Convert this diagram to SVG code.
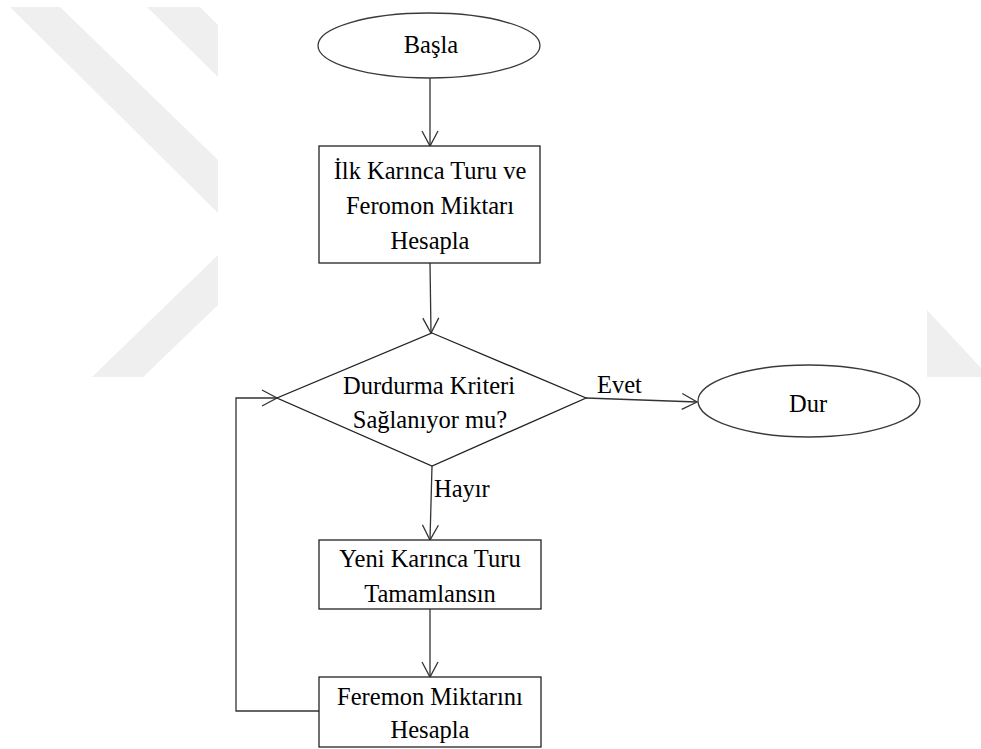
<svg xmlns="http://www.w3.org/2000/svg" width="981" height="749" viewBox="0 0 981 749">
  <style>
    .shape { fill: #ffffff; stroke: #222222; stroke-width: 1.3; }
    .oval { fill: #ffffff; stroke: #3a3a3a; stroke-width: 1.3; }
    .link { fill: none; stroke: #333333; stroke-width: 1.3; }
    text { font-family: 'Liberation Serif', 'DejaVu Serif', serif; font-size: 24.5px; fill: #000000; }
    .label { text-anchor: middle; }
    .mark { fill: #efefef; }
  </style>
  <defs>
    <marker id="open-arrow" markerUnits="userSpaceOnUse" markerWidth="20" markerHeight="20" viewBox="-16 -10 20 20" refX="0" refY="0" orient="auto">
      <path d="M -15 -8 L 0 0 L -15 8" fill="none" stroke="#333333" stroke-width="1.3"/>
    </marker>
  </defs>

  <rect width="981" height="749" fill="#ffffff"/>

  <!-- faint background bands -->
  <g id="background">
    <polygon class="mark" points="10,7 60,7 218,160 218,213"/>
    <polygon class="mark" points="147,7 200,7 218,25 218,77"/>
    <polygon class="mark" points="218,255 218,305 143,377 92,377"/>
    <polygon class="mark" points="927,310 981,368 981,377 927,377"/>
  </g>

  <!-- connectors -->
  <g id="connectors" font-family="Liberation Serif, serif">
    <line class="link" x1="430" y1="78" x2="430" y2="146" marker-end="url(#open-arrow)"/>
    <line class="link" x1="430" y1="263" x2="431" y2="333" marker-end="url(#open-arrow)"/>
    <line class="link" x1="586" y1="398" x2="697" y2="402" marker-end="url(#open-arrow)"/>
    <line class="link" x1="432" y1="466" x2="430" y2="540" marker-end="url(#open-arrow)"/>
    <line class="link" x1="430" y1="609" x2="430" y2="677" marker-end="url(#open-arrow)"/>
    <polyline class="link" points="319,711 236,711 236,398 277,398" marker-end="url(#open-arrow)"/>
    <text x="597" y="393" font-family="Liberation Serif, serif">Evet</text>
    <text x="434" y="497" font-family="Liberation Serif, serif">Hayır</text>
  </g>

  <g id="start" font-family="Liberation Serif, serif">
    <ellipse class="oval" cx="429" cy="45.5" rx="111" ry="32.5"/>
    <text class="label" x="431" y="53">Başla</text>
  </g>

  <g id="init" font-family="Liberation Serif, serif">
    <rect class="shape" x="319" y="146" width="221" height="117"/>
    <text class="label" x="430" y="179">İlk Karınca Turu ve</text>
    <text class="label" x="430" y="214">Feromon Miktarı</text>
    <text class="label" x="430" y="249">Hesapla</text>
  </g>

  <g id="decision" font-family="Liberation Serif, serif">
    <polygon class="shape" points="432,333 586,398 432,466 277,398"/>
    <text class="label" x="429" y="394">Durdurma Kriteri</text>
    <text class="label" x="430" y="428">Sağlanıyor mu?</text>
  </g>

  <g id="stop" font-family="Liberation Serif, serif">
    <ellipse class="oval" cx="809" cy="401" rx="111" ry="36"/>
    <text class="label" x="808" y="412">Dur</text>
  </g>

  <g id="new-tour" font-family="Liberation Serif, serif">
    <rect class="shape" x="319" y="540" width="222" height="69"/>
    <text class="label" x="430" y="567">Yeni Karınca Turu</text>
    <text class="label" x="430" y="602">Tamamlansın</text>
  </g>

  <g id="update" font-family="Liberation Serif, serif">
    <rect class="shape" x="319" y="677" width="222" height="70"/>
    <text class="label" x="430" y="705">Feremon Miktarını</text>
    <text class="label" x="430" y="738">Hesapla</text>
  </g>
</svg>
